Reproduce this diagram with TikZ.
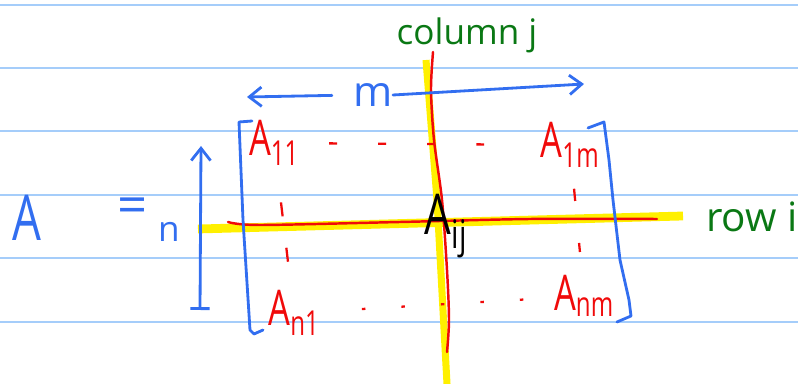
\documentclass[tikz,border=0pt]{standalone}
\usepackage{graphicx}
\usepackage{fontspec}
\setsansfont{Open Sans}
\usetikzlibrary{arrows.meta}

\definecolor{ruleblue}{RGB}{165,205,250}
\definecolor{penblue}{RGB}{50,110,240}
\definecolor{penred}{RGB}{240,10,10}
\definecolor{pengreen}{RGB}{10,120,20}
\definecolor{hilite}{RGB}{255,240,0}

\newcommand{\slim}[2][0.7]{\scalebox{#1}[1]{#2}}

\tikzset{
  ruled/.style={ruleblue,line width=1.1pt},
  pen/.style={line width=1.6pt,line cap=round,line join=round},
  ink/.style={inner sep=0pt,font=\sffamily},
  entry/.style={ink,text=penred,font=\sffamily\fontsize{28}{28}\selectfont},
  dots/.style={pen,penred,line width=1.3pt,line cap=butt},
  barb/.tip={Straight Barb[length=7pt,width=11pt,line width=1.6pt]}
}

\begin{document}
\begin{tikzpicture}[x=0.02cm,y=-0.02cm]
\path[use as bounding box] (0,0) rectangle (798,384);
% ruled paper
\foreach \y in {5,68,131,195,258,322}
  \draw[ruled] (0,\y) -- (798,\y);
% highlighted row i and column j
\draw[hilite,line width=4pt] (426,60) -- (437,200) -- (447,384);
\draw[hilite,line width=5pt] (198,229) -- (683,216);
\draw[pen,penred,line width=1.4pt] plot[smooth] coordinates {(433,52) (431,90) (434,140) (442,200) (447,270) (449,320) (447,352)};
\draw[pen,penred,line width=1.4pt] plot[smooth] coordinates {(228,222) (260,225) (400,222) (530,219) (657,219)};

% left hand side
\node[ink,text=penblue,font=\sffamily\fontsize{36}{36}\selectfont] (A) at (27,218) {\slim[0.72]{A}};
\node[ink,text=penblue,font=\sffamily\fontsize{30}{30}\selectfont] (eq) at (133,211) {=};
\node[ink,text=penblue,font=\sffamily\fontsize{20}{20}\selectfont] (n) at (169,232) {n};
\coordinate (nTop) at (201,146);
\coordinate (nBot) at (200,310);
\draw[pen,penblue,{barb}-{Bar[width=11pt,line width=1.6pt]}] (nTop) -- (nBot);

% width m
\node[ink,text=penblue,font=\sffamily\fontsize{24}{24}\selectfont] (m) at (373,95) {m};
\coordinate (mLeft) at (247,97);
\coordinate (mRight) at (584,84);
\draw[pen,penblue,-{barb},shorten <=12pt] (m.west) -- (mLeft);
\draw[pen,penblue,-{barb}] (m.east) -- (mRight);

% brackets
\draw[pen,penblue] (252,121) -- (239,122) -- (243,220) -- (250,330) -- (254,334) -- (263,330);
\draw[pen,penblue] (588,128) -- (604,122) -- (609,160) -- (613,200) -- (620,260) -- (629,300) -- (631,316) -- (617,322);

% entries
\node[entry] (a11) at (274,143) {\slim{A\textsubscript{11}}};
\node[entry] (a1m) at (570,145) {\slim{A\textsubscript{1m}}};
\node[entry] (an1) at (294,313) {\slim{A\textsubscript{n1}}};
\node[entry] (anm) at (584,296) {\slim{A\textsubscript{nm}}};
\node[ink,font=\sffamily\fontsize{32}{32}\selectfont] (aij) at (446,226) {\slim[0.75]{A\textsubscript{ij}}};

\draw[dots,dash pattern=on 4.5pt off 23.4pt,shorten <=17pt,shorten >=20pt] (a11) -- (a1m);
\draw[dots,dash pattern=on 8pt off 18pt,shorten <=21pt,shorten >=15pt] (a11) -- (an1);
\draw[dots,dash pattern=on 7pt off 24pt,shorten <=12pt,shorten >=13pt] (a1m) -- (anm);
\draw[dots,dash pattern=on 2pt off 20.5pt,shorten <=24pt,shorten >=6pt] (an1) -- (anm);

% labels
\node[ink,text=pengreen,font=\sffamily\fontsize{20}{20}\selectfont] (colj) at (467,35) {column j};
\node[ink,text=pengreen,font=\sffamily\fontsize{23}{23}\selectfont] (rowi) at (752,217) {row i};
\end{tikzpicture}
\end{document}
